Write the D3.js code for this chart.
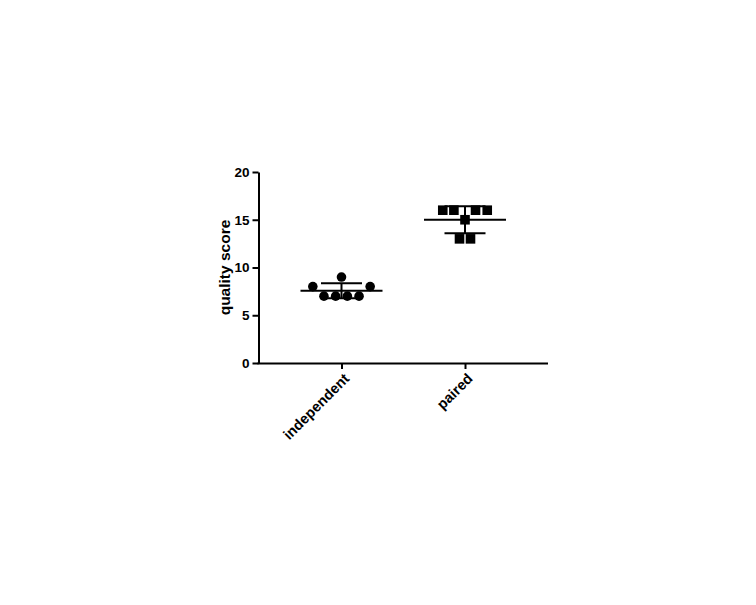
<!DOCTYPE html>
<html>
<head>
<meta charset="utf-8">
<script src="https://cdn.jsdelivr.net/npm/d3@7"></script>
<style>
  html, body { margin: 0; padding: 0; background: #fff; }
  svg { display: block; }
  text { font-family: "Liberation Sans", Arial, sans-serif; font-weight: bold; fill: #000; }
</style>
</head>
<body>
<svg id="chart" width="756" height="605"></svg>
<script>
// ---- data ----
const categories = ["independent", "paired"];
const independentValues = [7, 7, 7, 7, 8, 8, 9];
const independentSlots  = [-1.5, -0.5, 0.5, 1.5, -2.45, 2.45, 0];   // swarm slot of each point
const pairedValues = [16, 16, 16, 16, 15, 13, 13];
const pairedSlots  = [-1.9, -0.95, 0.9, 1.9, 0, -0.47, 0.47];
const yTicks = [0, 5, 10, 15, 20];
const yTitle = "quality score";

const groups = [
  { name: categories[0], values: independentValues, slots: independentSlots, shape: "circle" },
  { name: categories[1], values: pairedValues, slots: pairedSlots, shape: "square" }
];

// ---- layout ----
const svg = d3.select("#chart");
const x0 = 258.5, x1 = 548, yBottom = 363, yTop = 172;

const x = d3.scalePoint().domain(categories).range([x0, x1]).padding(0.672);
const y = d3.scaleLinear().domain([0, 20]).range([yBottom, yTop]);
const slot = d3.scaleLinear().domain([0, 1]).range([0, 11.7]);

// axes
const yAxis = svg.append("g")
  .attr("transform", `translate(${x0},0)`)
  .call(d3.axisLeft(y).tickValues(yTicks).tickSize(6).tickPadding(3).tickSizeOuter(0));
yAxis.select(".domain").attr("stroke", "#000").attr("stroke-width", 2);
yAxis.selectAll(".tick line").attr("stroke", "#000").attr("stroke-width", 2);
yAxis.selectAll(".tick text").style("font-size", "13.5px").attr("font-family", null);

const xAxis = svg.append("g")
  .attr("transform", `translate(0,${yBottom})`)
  .call(d3.axisBottom(x).tickSize(6).tickSizeOuter(0));
xAxis.select(".domain").attr("stroke", "#000").attr("stroke-width", 2)
  .attr("d", `M${x0 - 1},0.5H${x1}`);
xAxis.selectAll(".tick line").attr("stroke", "#000").attr("stroke-width", 2);
xAxis.selectAll(".tick text")
  .style("font-size", "14.5px")
  .attr("font-family", null)
  .attr("text-anchor", "end")
  .attr("transform", "translate(4.5,13) rotate(-45)")
  .attr("dy", "0.35em")
  .attr("y", 0);

// y title
svg.append("text")
  .attr("transform", `translate(230,${(yTop + yBottom) / 2}) rotate(-90)`)
  .attr("text-anchor", "middle")
  .style("font-size", "15.5px")
  .text(yTitle);

// points + mean/SD
groups.forEach(g => {
  const cx = x(g.name);
  const pts = g.values.map((v, i) => ({ v, s: g.slots[i] }));
  const gg = svg.append("g");
  if (g.shape === "circle") {
    gg.selectAll("circle").data(pts).join("circle")
      .attr("cx", d => cx + slot(d.s))
      .attr("cy", d => y(d.v))
      .attr("r", 4.8)
      .attr("fill", "#000");
  } else {
    const side = 9.6;
    gg.selectAll("rect").data(pts).join("rect")
      .attr("x", d => cx + slot(d.s) - side / 2)
      .attr("y", d => y(d.v) - side / 2)
      .attr("width", side).attr("height", side)
      .attr("fill", "#000");
  }
  const mean = d3.mean(g.values);
  const sd = d3.deviation(g.values);
  const lg = svg.append("g").attr("stroke", "#000");
  lg.append("line").attr("x1", cx - 41).attr("x2", cx + 41)
    .attr("y1", y(mean)).attr("y2", y(mean)).attr("stroke-width", 2);
  lg.append("line").attr("x1", cx).attr("x2", cx)
    .attr("y1", y(mean - sd)).attr("y2", y(mean + sd)).attr("stroke-width", 2);
  [mean - sd, mean + sd].forEach(v => {
    lg.append("line").attr("x1", cx - 20.5).attr("x2", cx + 20.5)
      .attr("y1", y(v)).attr("y2", y(v)).attr("stroke-width", 2);
  });
});
</script>
</body>
</html>
